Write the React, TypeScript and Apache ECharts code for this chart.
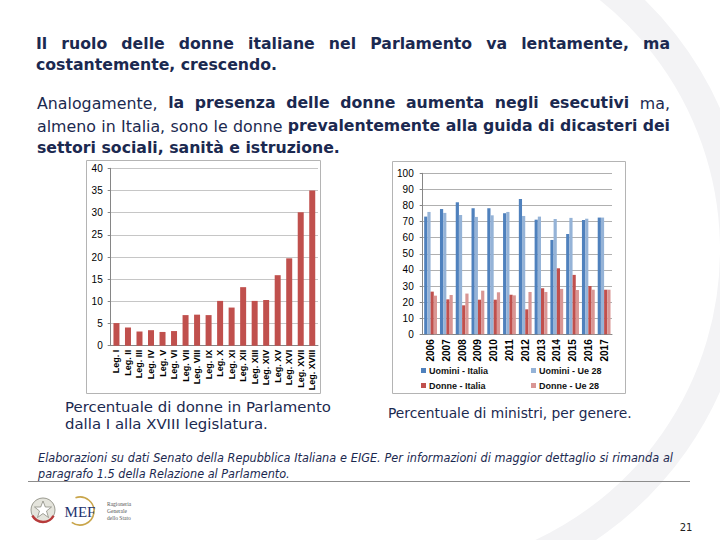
import React, { useEffect, useRef } from "react";
import * as echarts from "echarts";

// ---------- DATA ----------
const legislatures = [
  "Leg. I", "Leg. II", "Leg. III", "Leg. IV", "Leg. V", "Leg. VI", "Leg. VII", "Leg. VIII", "Leg. IX",
  "Leg. X", "Leg. XI", "Leg. XII", "Leg. XIII", "Leg. XIV", "Leg. XV", "Leg. XVI", "Leg. XVII", "Leg. XVIII",
];
const womenParliament = [5.1, 4.1, 3.2, 3.5, 3.1, 3.3, 6.9, 7.0, 6.9, 10.1, 8.6, 13.2, 10.1, 10.3, 15.9, 19.7, 30.1, 35.0];

const years = ["2006", "2007", "2008", "2009", "2010", "2011", "2012", "2013", "2014", "2015", "2016", "2017"];
const menItaly = [73.1, 77.8, 82, 78.3, 78.3, 75.2, 84, 71.2, 58.6, 62.3, 71, 72.5];
const menEU = [76, 75.4, 74.1, 72.9, 73.9, 76, 73.5, 73.1, 71.6, 72.3, 71.8, 72.5];
const womenItaly = [26.5, 21.7, 18, 21.5, 21.5, 24.6, 15.5, 28.6, 41, 36.9, 30, 27.7];
const womenEU = [24, 24.4, 25.3, 27.1, 26.1, 24.2, 26.3, 26.3, 28.2, 27.5, 27.7, 27.7];

const seriesNames = ["Uomini - Italia", "Uomini - Ue 28", "Donne - Italia", "Donne - Ue 28"];
const seriesColors = ["#4F81BD", "#95B3D7", "#C0504D", "#D99694"];

// ---------- TEXT HELPERS ----------
const FAM = '"DejaVu Sans", Verdana, sans-serif';
const NAVY = "#1b2950";
let mctx: CanvasRenderingContext2D | null = null;
function tw(text: string, font: string): number {
  if (!mctx) mctx = document.createElement("canvas").getContext("2d");
  mctx!.font = font;
  return mctx!.measureText(text).width;
}
type F = { font: string; scale: number };
function mkFont(style: string, weight: string, size: number, fitText: string, fitWidth: number): F {
  const font = `${style} ${weight} ${size}px ${FAM}`;
  return { font, scale: fitWidth / tw(fitText, font) };
}
type Seg = { text: string; f: F };
function textEl(text: string, x: number, y: number, f: F, color: string) {
  return {
    type: "text",
    x,
    y,
    scaleX: f.scale,
    silent: true,
    style: { text, font: f.font, fill: color, textAlign: "left", textVerticalAlign: "middle", align: "left", verticalAlign: "middle" },
  };
}
function justifiedLine(segs: Seg[], x0: number, x1: number, y: number, color: string) {
  const words: { t: string; f: F; w: number }[] = [];
  segs.forEach((s) =>
    s.text.split(" ").filter(Boolean).forEach((t) => words.push({ t, f: s.f, w: tw(t, s.f.font) * s.f.scale }))
  );
  const total = words.reduce((a, b) => a + b.w, 0);
  const gap = (x1 - x0 - total) / (words.length - 1);
  let x = x0;
  return words.map((wd) => {
    const el = textEl(wd.t, x, y, wd.f, color);
    x += wd.w + gap;
    return el;
  });
}
function plainLine(segs: Seg[], x0: number, y: number, color: string) {
  let x = x0;
  return segs.map((s) => {
    const el = textEl(s.text, x, y, s.f, color);
    x += tw(s.text, s.f.font) * s.f.scale;
    return el;
  });
}

function buildGraphics() {
  const titleF = mkFont("normal", "bold", 15, "costantemente, crescendo.", 241);
  const paraB = mkFont("normal", "bold", 15, "settori sociali, sanità e istruzione.", 303);
  const paraR = mkFont("normal", "normal", 16, "almeno in Italia, sono le donne", 244);
  const capF = mkFont("normal", "normal", 14, "dalla I alla XVIII legislatura.", 203);
  const capF2 = mkFont("normal", "normal", 14, "Percentuale di ministri, per genere.", 244);
  const footF = mkFont("italic", "normal", 12, "paragrafo 1.5 della Relazione al Parlamento.", 252);

  const els: any[] = [];
  // faint background swoosh
  els.push({
    type: "arc",
    z: -10,
    silent: true,
    shape: { cx: 400, cy: 250, r: 335, startAngle: -1.3, endAngle: 1.25 },
    style: { stroke: "#f3f3f5", lineWidth: 30, fill: null },
  });

  els.push(...justifiedLine([{ text: "Il ruolo delle donne italiane nel Parlamento va lentamente, ma", f: titleF }], 36, 670, 44, NAVY));
  els.push(...plainLine([{ text: "costantemente, crescendo.", f: titleF }], 36, 65, NAVY));

  els.push(
    ...justifiedLine(
      [
        { text: "Analogamente,", f: paraR },
        { text: "la presenza delle donne aumenta negli esecutivi", f: paraB },
        { text: "ma,", f: paraR },
      ],
      37, 670, 103, NAVY
    )
  );
  els.push(
    ...justifiedLine(
      [
        { text: "almeno in Italia, sono le donne", f: paraR },
        { text: "prevalentemente alla guida di dicasteri dei", f: paraB },
      ],
      37, 670, 126, NAVY
    )
  );
  els.push(...plainLine([{ text: "settori sociali, sanità e istruzione.", f: paraB }], 37, 148, NAVY));

  // chart frames
  els.push({ type: "rect", z: -5, silent: true, shape: { x: 86.5, y: 160.5, width: 234, height: 233 }, style: { fill: "#fff", stroke: "#b4b4b4", lineWidth: 1 } });
  els.push({ type: "rect", z: -5, silent: true, shape: { x: 392.5, y: 161.5, width: 233, height: 232 }, style: { fill: "#fff", stroke: "#b4b4b4", lineWidth: 1 } });

  // captions
  els.push(...justifiedLine([{ text: "Percentuale di donne in Parlamento", f: capF }], 65, 331, 407, NAVY));
  els.push(...plainLine([{ text: "dalla I alla XVIII legislatura.", f: capF }], 65, 424, NAVY));
  els.push(...plainLine([{ text: "Percentuale di ministri, per genere.", f: capF2 }], 388, 413, NAVY));

  // footnote
  els.push(
    ...justifiedLine(
      [{ text: "Elaborazioni su dati Senato della Repubblica Italiana e EIGE. Per informazioni di maggior dettaglio si rimanda al", f: footF }],
      38, 673, 458, NAVY
    )
  );
  els.push(...plainLine([{ text: "paragrafo 1.5 della Relazione al Parlamento.", f: footF }], 38, 474, NAVY));
  els.push({ type: "line", silent: true, shape: { x1: 28, y1: 481.5, x2: 690, y2: 481.5 }, style: { stroke: "#8c8c8c", lineWidth: 1 } });

  // page number
  els.push({
    type: "text", silent: true, x: 686, y: 527,
    style: { text: "21", font: `normal 10px ${FAM}`, fill: "#222", textAlign: "center", textVerticalAlign: "middle", align: "center", verticalAlign: "middle" },
  });

  // emblem
  els.push({ type: "circle", silent: true, shape: { cx: 43, cy: 510, r: 12 }, style: { fill: "#e4e4dc", stroke: "#9a9a90", lineWidth: 1 } });
  els.push({
    type: "polygon", silent: true,
    shape: { points: [[43, 501], [45.3, 507], [51.5, 507], [46.5, 511], [48.5, 517.5], [43, 513.5], [37.5, 517.5], [39.5, 511], [34.5, 507], [40.7, 507]] },
    style: { fill: "#ffffff", stroke: "#8a8a80", lineWidth: 0.8 },
  });
  els.push({ type: "arc", silent: true, shape: { cx: 43, cy: 510, r: 12, startAngle: 0.5, endAngle: 2.65 }, style: { stroke: "#b73a3a", lineWidth: 2.5, fill: null } });

  // MEF logo
  els.push({ type: "arc", silent: true, shape: { cx: 80, cy: 511, r: 14, startAngle: -1.9, endAngle: 2.2 }, style: { stroke: "#c9a54a", lineWidth: 1.6, fill: null } });
  els.push({
    type: "text", silent: true, x: 80, y: 512,
    style: { text: "MEF", font: `normal 15px "Liberation Serif", serif`, fill: "#1d3570", textAlign: "center", textVerticalAlign: "middle", align: "center", verticalAlign: "middle" },
  });
  ["Ragioneria", "Generale", "dello Stato"].forEach((t, i) =>
    els.push({
      type: "text", silent: true, x: 107, y: 504 + i * 7,
      style: { text: t, font: `normal 5.5px "Liberation Serif", serif`, fill: "#555", textAlign: "left", textVerticalAlign: "middle", align: "left", verticalAlign: "middle" },
    })
  );
  return els;
}

function buildOption() {
  const LF = '"Liberation Sans", Arial, sans-serif';
  const axisCol = "#868686";
  const legendBase = {
    orient: "horizontal",
    padding: 0,
    itemWidth: 5,
    itemHeight: 5,
    icon: "rect",
    itemGap: 0,
    selectedMode: false,
    textStyle: { fontSize: 9, fontWeight: "bold", color: "#111", fontFamily: LF, padding: [0, 0, 0, -2] },
  };
  return {
    animation: false,
    backgroundColor: "#ffffff",
    graphic: { elements: buildGraphics() },
    grid: [
      { left: 110.7, top: 168.3, width: 207.3, height: 177.4 },
      { left: 422.7, top: 173.3, width: 189.3, height: 161 },
    ],
    legend: [
      { ...legendBase, data: [seriesNames[0]], left: 421, top: 366 },
      { ...legendBase, data: [seriesNames[1]], left: 531, top: 366 },
      { ...legendBase, data: [seriesNames[2]], left: 421, top: 381 },
      { ...legendBase, data: [seriesNames[3]], left: 531, top: 381 },
    ],
    xAxis: [
      {
        gridIndex: 0, type: "category", data: legislatures,
        axisLine: { lineStyle: { color: axisCol } },
        axisTick: { length: 4, lineStyle: { color: axisCol } },
        axisLabel: { rotate: 90, interval: 0, fontSize: 9, fontWeight: "bold", color: "#000", fontFamily: LF, margin: 4 },
      },
      {
        gridIndex: 1, type: "category", data: years,
        axisLine: { lineStyle: { color: axisCol } },
        axisTick: { length: 4, lineStyle: { color: axisCol } },
        axisLabel: { rotate: 90, interval: 0, fontSize: 10, fontWeight: "bold", color: "#000", fontFamily: LF, margin: 5 },
      },
    ],
    yAxis: [
      {
        gridIndex: 0, type: "value", min: 0, max: 40, interval: 5,
        axisLine: { show: true, lineStyle: { color: axisCol } },
        axisTick: { show: true, length: 3, lineStyle: { color: axisCol } },
        axisLabel: { fontSize: 10, color: "#000", fontFamily: LF, margin: 8 },
        splitLine: { lineStyle: { color: "#c6c6c6" } },
      },
      {
        gridIndex: 1, type: "value", min: 0, max: 100, interval: 10,
        axisLine: { show: true, lineStyle: { color: axisCol } },
        axisTick: { show: true, length: 3, lineStyle: { color: axisCol } },
        axisLabel: { fontSize: 10, color: "#000", fontFamily: LF, margin: 9 },
        splitLine: { lineStyle: { color: "#b0b0b0" } },
      },
    ],
    series: [
      {
        type: "bar", xAxisIndex: 0, yAxisIndex: 0, data: womenParliament, barWidth: 6,
        itemStyle: { color: "#C0504D" },
      },
      ...[menItaly, menEU, womenItaly, womenEU].map((d, i) => ({
        name: seriesNames[i],
        type: "bar", xAxisIndex: 1, yAxisIndex: 1, data: d,
        barWidth: 3.2, barGap: "0%",
        itemStyle: { color: seriesColors[i] },
      })),
    ],
  };
}

export default function App() {
  const ref = useRef<HTMLDivElement>(null);
  useEffect(() => {
    const chart = echarts.init(ref.current!, null, { renderer: "svg", width: 720, height: 540 });
    chart.setOption(buildOption() as any);
    return () => chart.dispose();
  }, []);
  return (
    <div
      ref={ref}
      style={{ position: "fixed", left: 0, top: 0, width: 720, height: 540, background: "#fff" }}
    />
  );
}
